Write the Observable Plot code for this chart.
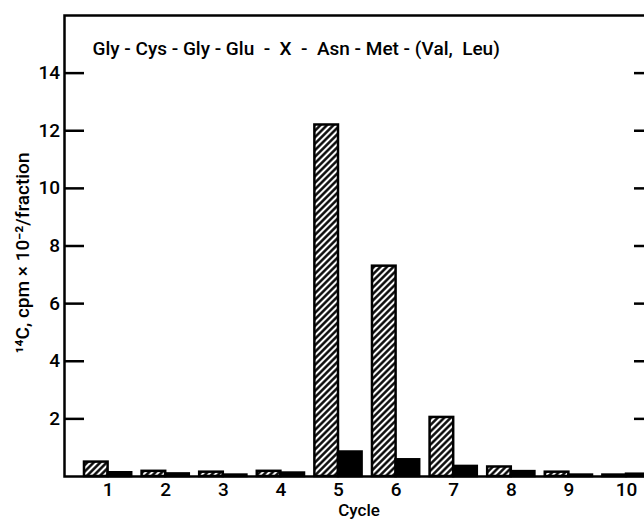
<!DOCTYPE html>
<html><head><meta charset="utf-8">
<script src="https://cdn.jsdelivr.net/npm/d3@7"></script>
<script src="https://cdn.jsdelivr.net/npm/@observablehq/plot@0.6"></script>
<style>html,body{margin:0;padding:0;overflow:hidden;background:#fff}</style>
</head><body><div id="chart"></div>
<script>
const cycles = [1, 2, 3, 4, 5, 6, 7, 8, 9, 10];
const hatchedValues = [0.5, 0.18, 0.15, 0.18, 12.2, 7.3, 2.05, 0.33, 0.15, 0.05];
const solidValues = [0.13, 0.09, 0.05, 0.12, 0.85, 0.58, 0.35, 0.17, 0.05, 0.08];
const yTicks = [2, 4, 6, 8, 10, 12, 14];
const xTickLabels = ["1", "2", "3", "4", "5", "6", "7", "8", "9", "10"];
const title = "Gly - Cys - Gly - Glu  -  X  -  Asn - Met - (Val,  Leu)";
const yLabel = "¹⁴C, cpm × 10⁻²/fraction";
const xLabel = "Cycle";

const hatchedRows = cycles.map((c, i) => ({cycle: c, value: hatchedValues[i]}));
const solidRows = cycles.map((c, i) => ({cycle: c, value: solidValues[i]}));
const half = 0.41;
const font = "Roboto, 'Liberation Sans', Arial, sans-serif";

const plot = Plot.plot({
  width: 660, height: 519,
  marginLeft: 64, marginRight: 7, marginTop: 15, marginBottom: 43,
  style: {fontFamily: font, fontSize: "18px", fontWeight: 500, color: "#000", background: "#fff", overflow: "visible"},
  x: {domain: [0.243, 10.469], axis: null, label: null},
  y: {domain: [0, 16], axis: null, label: null},
  marks: [
    Plot.rectY(hatchedRows, {x1: d => d.cycle - half, x2: d => d.cycle, y1: 0, y2: "value", fill: "url(#hatch)", stroke: "#000", strokeWidth: 2.5}),
    Plot.rectY(solidRows, {x1: d => d.cycle, x2: d => d.cycle + half, y1: 0, y2: "value", fill: "#000", stroke: "#000", strokeWidth: 2.5}),
    Plot.frame({stroke: "#000", strokeWidth: 2.5}),
    Plot.axisY({ticks: yTicks, anchor: "left", tickSize: -20, tickPadding: 24.5, strokeWidth: 2.5, fontSize: 19, label: null}),
    Plot.axisY({ticks: yTicks, anchor: "right", tickSize: -20, tickFormat: () => "", strokeWidth: 2.5, label: null}),
    Plot.axisX({ticks: cycles, tickSize: 0, tickPadding: 6, fontSize: 19, label: null, tickFormat: d => xTickLabels[cycles.indexOf(d)]}),
    Plot.text([title], {text: d => d, frameAnchor: "top-left", dx: 28, dy: 26, textAnchor: "start", lineAnchor: "top", fontSize: 19, ariaLabel: "title"}),
    Plot.text([yLabel], {text: d => d, frameAnchor: "left", rotate: -90, dx: -42, dy: 7, textAnchor: "middle", lineAnchor: "middle", fontSize: 19, ariaLabel: "ylabel"}),
    Plot.text([xLabel], {text: d => d, frameAnchor: "bottom", dy: 27, lineAnchor: "top", fontSize: 17, ariaLabel: "xlabel"})
  ]
});
plot.style.maxWidth = "none";
const NS = "http://www.w3.org/2000/svg";
const defs = document.createElementNS(NS, "defs");
const pat = document.createElementNS(NS, "pattern");
pat.setAttribute("id", "hatch");
pat.setAttribute("patternUnits", "userSpaceOnUse");
pat.setAttribute("width", "4.6");
pat.setAttribute("height", "4.6");
pat.setAttribute("patternTransform", "rotate(45)");
const bg = document.createElementNS(NS, "rect");
bg.setAttribute("width", "4.6"); bg.setAttribute("height", "4.6"); bg.setAttribute("fill", "#fff");
const ln = document.createElementNS(NS, "line");
ln.setAttribute("x1", "2.3"); ln.setAttribute("x2", "2.3"); ln.setAttribute("y1", "-1"); ln.setAttribute("y2", "6");
ln.setAttribute("stroke", "#000"); ln.setAttribute("stroke-width", "2.4");
pat.appendChild(bg); pat.appendChild(ln); defs.appendChild(pat);
plot.insertBefore(defs, plot.firstChild);
document.getElementById("chart").appendChild(plot);
const t = plot.querySelector('g[aria-label="title"] text');
if (t) { t.setAttribute("textLength", "495"); t.setAttribute("lengthAdjust", "spacing"); }
const yl = plot.querySelector('g[aria-label="ylabel"] text');
if (yl) { yl.setAttribute("textLength", "269"); yl.setAttribute("lengthAdjust", "spacing"); }
</script>
</body></html>
